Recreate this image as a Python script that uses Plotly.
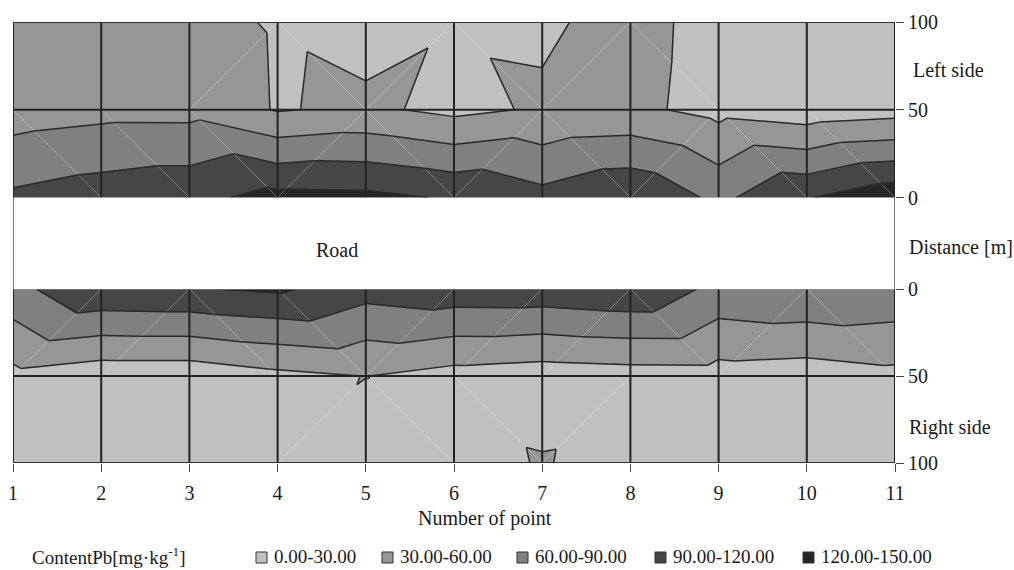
import plotly.graph_objects as go

W, H = 1014, 570

# ---- data ---------------------------------------------------------------
point_no = list(range(1, 12))          # sampling points along the road
distance_m = [0, 50, 100]              # distance from the road edge [m]
level_edges = [0, 30, 60, 90, 120, 150]
band_names = ["0.00-30.00", "30.00-60.00", "60.00-90.00", "90.00-120.00", "120.00-150.00"]

# Pb content [mg/kg], left side of the road
left_0m = [95.5, 105.5, 112.0, 129.0, 127.3, 117.0, 99.5, 117.2, 82.9, 118.0, 141.0]
left_50m = [45.5, 51.2, 51.0, 28.0, 35.7, 22.6, 33.4, 36.6, 20.7, 11.8, 18.0]
left_100m = [45.0, 42.0, 39.6, 27.1, 18.4, 27.6, 26.3, 38.2, 21.5, 20.0, 18.0]

# Pb content [mg/kg], right side of the road
right_0m = [80.6, 116.0, 118.0, 124.7, 102.0, 109.0, 109.5, 115.8, 81.5, 87.6, 83.0]
right_50m = [21.8, 11.0, 11.0, 22.7, 30.5, 19.0, 14.0, 17.2, 17.9, 14.7, 22.1]
right_100m = [20.0, 18.0, 18.0, 25.5, 10.0, 15.3, 32.4, 13.9, 18.0, 18.0, 18.0]

# ---- styling ------------------------------------------------------------
band_colors = ["#c0c0c0", "#969696", "#808080", "#464646", "#262626"]
FONT = "Liberation Serif"

# Split of each grid cell into two triangles (one string per distance row):
# 'A' cuts along (i, j)-(i+1, j+1), 'B' cuts along (i, j+1)-(i+1, j)
left_split = ["BBBABABABB", "ABABABABAB"]
right_split = ["BBAABBBABA", "ABABAABABA"]

X0, X1 = 13, 895
TOP_Y100, TOP_Y0 = 22, 197.5
BOT_Y0, BOT_Y100 = 289, 463


def fx(p):
    return p / W


def fy(p):
    return 1 - p / H


def cells(grid, split):
    for j in range(len(distance_m) - 1):
        for i in range(len(point_no) - 1):
            a = (point_no[i], distance_m[j], grid[j][i])
            b = (point_no[i + 1], distance_m[j], grid[j][i + 1])
            c = (point_no[i + 1], distance_m[j + 1], grid[j + 1][i + 1])
            d = (point_no[i], distance_m[j + 1], grid[j + 1][i])
            yield a, b, c, d, split[j][i]


def triangles(grid, split):
    for a, b, c, d, s in cells(grid, split):
        if s == "A":
            yield (a, b, c)
            yield (a, c, d)
        else:
            yield (a, b, d)
            yield (b, c, d)


def clip(poly, level, keep_above):
    out = []
    n = len(poly)
    for k in range(n):
        p, q = poly[k], poly[(k + 1) % n]
        dp = (p[2] - level) if keep_above else (level - p[2])
        dq = (q[2] - level) if keep_above else (level - q[2])
        if dp >= 0:
            out.append(p)
        if (dp >= 0) != (dq >= 0):
            t = dp / (dp - dq)
            out.append((p[0] + t * (q[0] - p[0]),
                        p[1] + t * (q[1] - p[1]),
                        p[2] + t * (q[2] - p[2])))
    return out


def iso_segment(tri, level):
    pts = []
    for k in range(3):
        p, q = tri[k], tri[(k + 1) % 3]
        if (p[2] - level) * (q[2] - level) < 0:
            t = (level - p[2]) / (q[2] - p[2])
            pts.append((p[0] + t * (q[0] - p[0]), p[1] + t * (q[1] - p[1])))
    return pts if len(pts) == 2 else None


fig = go.Figure()

panels = [
    ([left_0m, left_50m, left_100m], left_split, "y"),
    ([right_0m, right_50m, right_100m], right_split, "y2"),
]

for grid, split, yax in panels:
    tris = list(triangles(grid, split))
    # filled bands
    for b, color in enumerate(band_colors):
        lo, hi = level_edges[b], level_edges[b + 1]
        xs, ys = [], []
        for tri in tris:
            poly = clip(clip(list(tri), lo, True), hi, False)
            if len(poly) >= 3:
                xs += [p[0] for p in poly] + [poly[0][0], None]
                ys += [p[1] for p in poly] + [poly[0][1], None]
        if xs:
            fig.add_trace(go.Scatter(x=xs, y=ys, yaxis=yax, mode="lines", fill="toself",
                                     fillcolor=color, line=dict(color=color, width=0.7),
                                     hoverinfo="skip", showlegend=False))
    # mesh seams in cells that change band
    sx, sy = [], []
    for a, b, c, d, s in cells(grid, split):
        vals = [a[2], b[2], c[2], d[2]]
        if any(min(vals) < L < max(vals) for L in level_edges[1:-1]):
            p, q = (a, c) if s == "A" else (d, b)
            sx += [p[0], q[0], None]
            sy += [p[1], q[1], None]
    fig.add_trace(go.Scatter(x=sx, y=sy, yaxis=yax, mode="lines",
                             line=dict(color="rgba(235,235,235,0.45)", width=0.8),
                             hoverinfo="skip", showlegend=False))
    # band boundaries
    cx, cy = [], []
    for tri in tris:
        for L in level_edges[1:-1]:
            seg = iso_segment(tri, L)
            if seg:
                cx += [seg[0][0], seg[1][0], None]
                cy += [seg[0][1], seg[1][1], None]
    fig.add_trace(go.Scatter(x=cx, y=cy, yaxis=yax, mode="lines",
                             line=dict(color="#2a2a2a", width=1.5),
                             hoverinfo="skip", showlegend=False))

# ---- grid and frame -----------------------------------------------------
shapes = []
for yref in ("y", "y2"):
    for p in point_no:
        shapes.append(dict(type="line", xref="x", yref=yref, x0=p, x1=p,
                           y0=distance_m[0], y1=distance_m[-1],
                           line=dict(color="#222222", width=2), layer="above"))
    shapes.append(dict(type="line", xref="x", yref=yref, x0=point_no[0], x1=point_no[-1],
                       y0=distance_m[1], y1=distance_m[1],
                       line=dict(color="#222222", width=2), layer="above"))
    shapes.append(dict(type="line", xref="x", yref=yref, x0=point_no[0], x1=point_no[-1],
                       y0=distance_m[-1], y1=distance_m[-1],
                       line=dict(color="#333333", width=2), layer="above"))
    shapes.append(dict(type="line", xref="x", yref=yref, x0=point_no[0], x1=point_no[-1],
                       y0=distance_m[0], y1=distance_m[0],
                       line=dict(color="#a0a0a0", width=1), layer="above"))
# frame through the road strip
for p in (point_no[0], point_no[-1]):
    shapes.append(dict(type="line", xref="x", yref="paper", x0=p, x1=p,
                       y0=fy(BOT_Y0), y1=fy(TOP_Y0),
                       line=dict(color="#222222", width=1.2), layer="above"))

# ---- legend -------------------------------------------------------------
legend_box_left = [256, 382, 517, 655, 803]
LEG_Y = 556
annotations = []
for name, color, lx in zip(band_names, band_colors, legend_box_left):
    shapes.append(dict(type="rect", xref="paper", yref="paper",
                       x0=fx(lx), x1=fx(lx + 11), y0=fy(LEG_Y + 7), y1=fy(LEG_Y - 4),
                       fillcolor=color, line=dict(color="#333333", width=1)))
    annotations.append(dict(text=name, xref="paper", yref="paper", x=fx(lx + 16), y=fy(LEG_Y),
                            xanchor="left", yanchor="middle", showarrow=False,
                            font=dict(family=FONT, size=19, color="#1a1a1a")))
annotations.append(dict(text="ContentPb[mg·kg<sup>-1</sup>]", xref="paper", yref="paper",
                        x=fx(30), y=fy(LEG_Y), xanchor="left", yanchor="middle", showarrow=False,
                        font=dict(family=FONT, size=19, color="#1a1a1a")))

# ---- labels -------------------------------------------------------------
def label(text, x, y, anchor="left"):
    annotations.append(dict(text=text, xref="paper", yref="paper", x=fx(x), y=fy(y),
                            xanchor=anchor, yanchor="middle", showarrow=False,
                            font=dict(family=FONT, size=20, color="#1a1a1a")))


label("Left side", 911, 70)
label("Distance [m]", 907, 247)
label("Right side", 907, 427)
label("Road", 337, 250, "center")
label("Number of point", 485, 518, "center")

axis_common = dict(showgrid=False, zeroline=False, showline=False, ticks="outside",
                   ticklen=8, tickwidth=1, tickcolor="#444444", automargin=False,
                   tickfont=dict(family=FONT, size=20, color="#1a1a1a"))

fig.update_layout(
    width=W, height=H,
    margin=dict(l=0, r=0, t=0, b=0, pad=0, autoexpand=False),
    paper_bgcolor="white", plot_bgcolor="white",
    showlegend=False,
    xaxis=dict(domain=[fx(X0), fx(X1)], range=[point_no[0], point_no[-1]], anchor="y2",
               tickvals=point_no, ticklabelstandoff=4, **axis_common),
    yaxis=dict(domain=[fy(TOP_Y0), fy(TOP_Y100)], range=[distance_m[0], distance_m[-1]],
               side="right", anchor="x", tickvals=distance_m, **axis_common),
    yaxis2=dict(domain=[fy(BOT_Y100), fy(BOT_Y0)], range=[distance_m[-1], distance_m[0]],
                side="right", anchor="x", tickvals=distance_m, **axis_common),
    shapes=shapes,
    annotations=annotations,
)

fig.write_html("out.html", post_script="document.body.style.margin='0';")
